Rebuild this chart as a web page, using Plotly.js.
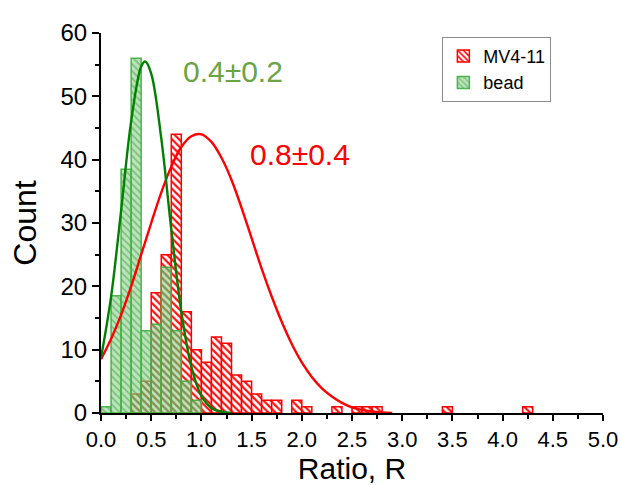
<!DOCTYPE html>
<html>
<head>
<meta charset="utf-8">
<script src="https://cdn.plot.ly/plotly-3.0.1.min.js"></script>
<style>
  html, body { margin: 0; padding: 0; background: #fff; }
  #chart { width: 620px; height: 485px; }
</style>
</head>
<body>
<div id="chart"></div>
<script>
// ---- Data ----
// MV4-11 histogram (bin centres, width 0.1)
const redBins   = [0.35, 0.45, 0.55, 0.65, 0.75, 0.85, 0.95, 1.05, 1.15, 1.25, 1.35, 1.45, 1.55, 1.65, 1.75, 1.95, 2.05, 2.35, 2.55, 2.65, 2.75, 3.45, 4.25];
const redCounts = [3,    5,    19,   25,   44,   16,   10,   8,    12,   11,   6,    5,    3,    2,    2,    2,    1,    1,    1,    1,    1,    1,    1];
// bead histogram
const greenBins   = [0.05, 0.15, 0.25, 0.35, 0.45, 0.55, 0.65, 0.75, 0.85, 0.95];
const greenCounts = [1,    18.5, 38.5, 56,   13,   14,   23,   13,   5,    2];
// Gaussian fit curves
const redFitX = [0, 0.1, 0.2, 0.3, 0.4, 0.5, 0.6, 0.7, 0.8, 0.9, 1.0, 1.1, 1.2, 1.3, 1.4, 1.5, 1.6, 1.7, 1.8, 1.9, 2.0, 2.1, 2.2, 2.3, 2.4, 2.5, 2.6, 2.7, 2.8, 2.9];
const redFitY = [8.5, 11.7, 15.5, 20, 25, 30, 34.8, 38.9, 42, 43.7, 44, 42.8, 40.3, 36.8, 32.4, 27.6, 22.8, 18.4, 14.4, 10.9, 8, 5.7, 3.9, 2.6, 1.6, 0.9, 0.5, 0.25, 0.1, 0];
const greenFitX = [0, 0.1, 0.2, 0.3, 0.4, 0.44, 0.5, 0.6, 0.7, 0.8, 0.9, 1.0, 1.1, 1.2, 1.3];
const greenFitY = [8.7, 18.3, 31.9, 46, 54.7, 55.5, 53.6, 43.4, 29, 16, 7.3, 2.7, 0.8, 0.2, 0];
const seriesNames = ["MV4-11", "bead"];
const fitLabels = ["0.8\u00b10.4", "0.4\u00b10.2"];
const xTickVals = [0, 0.5, 1, 1.5, 2, 2.5, 3, 3.5, 4, 4.5, 5];
const yTickVals = [0, 10, 20, 30, 40, 50, 60];

const FONT = "Arial, 'Liberation Sans', sans-serif";

const traces = [
  {
    type: "bar", name: seriesNames[0], x: redBins, y: redCounts, width: 0.1,
    marker: {
      color: "#ffffff",
      line: { color: "#ff0000", width: 1.5 },
      pattern: { shape: "\\", fgcolor: "#ff1010", bgcolor: "#ffffff", size: 5, solidity: 0.45 }
    }
  },
  {
    type: "bar", name: seriesNames[1], x: greenBins, y: greenCounts, width: 0.1,
    marker: {
      color: "rgba(120,200,120,0.6)",
      line: { color: "rgba(60,175,60,0.9)", width: 1.5 },
      pattern: { shape: "\\", fgcolor: "rgba(80,160,80,0.55)", bgcolor: "rgba(140,210,140,0.6)", size: 5, solidity: 0.35 }
    }
  },
  {
    type: "scatter", mode: "lines", x: redFitX, y: redFitY, showlegend: false,
    line: { color: "#ff0000", width: 2.4, shape: "spline" }, hoverinfo: "skip"
  },
  {
    type: "scatter", mode: "lines", x: greenFitX, y: greenFitY, showlegend: false,
    line: { color: "#008000", width: 2.4, shape: "spline" }, hoverinfo: "skip"
  }
];

const layout = {
  width: 620, height: 485,
  margin: { l: 101, r: 17, t: 33, b: 72 },
  paper_bgcolor: "#ffffff", plot_bgcolor: "#ffffff",
  barmode: "overlay", bargap: 0,
  showlegend: true,
  legend: {
    x: 0.68, y: 0.99, xanchor: "left", yanchor: "top",
    bordercolor: "#8c8c8c", borderwidth: 1, bgcolor: "#ffffff",
    font: { family: FONT, size: 18, color: "#000" },
    tracegroupgap: 0, itemwidth: 30
  },
  font: { family: FONT, color: "#000" },
  xaxis: {
    range: [0, 5], tickvals: xTickVals, tickformat: ".1f",
    ticks: "outside", ticklen: 6, tickwidth: 2, tickcolor: "#000",
    minor: { dtick: 0.25, tick0: 0, ticks: "outside", ticklen: 4, tickwidth: 2, tickcolor: "#000" },
    showline: true, linecolor: "#000", linewidth: 2,
    showgrid: false, zeroline: false,
    tickfont: { family: FONT, size: 22, color: "#000" },
    title: { text: "Ratio, R", font: { family: FONT, size: 30, color: "#000" }, standoff: 11 }
  },
  yaxis: {
    range: [0, 60], tickvals: yTickVals,
    ticks: "outside", ticklen: 7, tickwidth: 2, tickcolor: "#000",
    minor: { dtick: 5, tick0: 0, ticks: "outside", ticklen: 4, tickwidth: 2, tickcolor: "#000" },
    showline: true, linecolor: "#000", linewidth: 2,
    showgrid: false, zeroline: false,
    tickfont: { family: FONT, size: 24, color: "#000" },
    title: { text: "Count", font: { family: FONT, size: 32, color: "#000" }, standoff: 14 }
  },
  annotations: [
    { x: 1.31, y: 53.9, xref: "x", yref: "y", text: fitLabels[1], showarrow: false,
      font: { family: FONT, size: 30, color: "#6aa444" } },
    { x: 1.98, y: 40.8, xref: "x", yref: "y", text: fitLabels[0], showarrow: false,
      font: { family: FONT, size: 30, color: "#ff0000" } }
  ]
};

Plotly.newPlot("chart", traces, layout, { displayModeBar: false, staticPlot: true });
</script>
</body>
</html>
